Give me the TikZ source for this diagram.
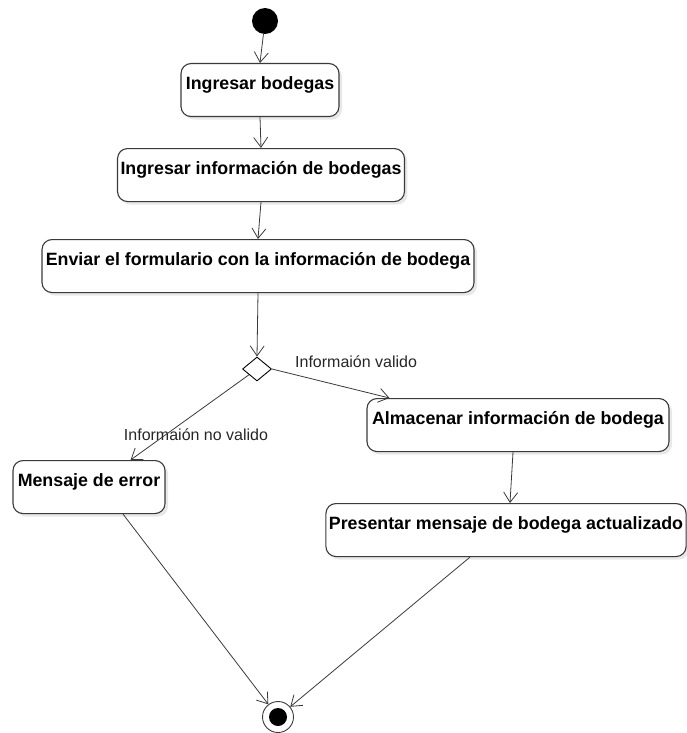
\documentclass[tikz,border=0pt]{standalone}
\usepackage{fontspec}
\setmainfont{Liberation Sans}
\usetikzlibrary{arrows.meta,shapes.geometric,shadows}
\definecolor{edge}{HTML}{3A3A3A}
\tikzset{
  actbox/.style={draw=edge, line width=1.1pt, rounded corners=10pt, fill=white,
    inner xsep=3pt, inner ysep=0pt, text height=26pt, text depth=27pt,
    font=\fontsize{17.8}{20}\selectfont\bfseries, anchor=north,
    drop shadow={shadow xshift=3pt, shadow yshift=-3pt, opacity=0.18, fill=gray}},
  flow/.style={draw=edge, line width=0.8pt, -{Straight Barb[length=10pt,width=14pt,line width=0.8pt]}},
  lbl/.style={font=\fontsize{16}{18}\selectfont, text=black!85, inner sep=0pt},
  dec/.style={diamond, draw=black, line width=0.9pt, fill=white, minimum width=29pt, minimum height=24pt, inner sep=0pt}
}
\begin{document}
\begin{tikzpicture}[x=1pt,y=-1pt]
\useasboundingbox (0,0) rectangle (686,733);
\node[circle, fill=black, minimum size=26pt, inner sep=0pt] (init) at (265,21) {};
\node[actbox, minimum width=158pt] (b1) at (260,63) {Ingresar bodegas};
\node[actbox, minimum width=286pt] (b2) at (261,148) {Ingresar información de bodegas};
\node[actbox, minimum width=432pt] (b3) at (258,239) {Enviar el formulario con la información de bodega};
\node[dec] (d) at (257,369) {};
\node[actbox, minimum width=302pt] (b4) at (518,398) {Almacenar información de bodega};
\node[actbox, minimum width=152pt] (b5) at (89,460) {Mensaje de error};
\node[actbox, minimum width=358pt] (b6) at (506,503) {Presentar mensaje de bodega actualizado};
\node[circle, draw=edge, line width=0.9pt, fill=white, minimum size=31pt, inner sep=0pt] (fin) at (278,717) {};
\node[circle, fill=black, minimum size=18pt, inner sep=0pt] (fincore) at (fin.center) {};
\node[lbl, anchor=west] (lv) at (295,362) {Informaión valido};
\node[lbl] (lnv) at (196,435) {Informaión no valido};
\draw[flow] (init) -- (b1.north);
\draw[flow] (b1.south) -- (b2.north);
\draw[flow] (b2.south) -- (b3.north);
\draw[flow] (b3.south) -- (d.north);
\draw[flow] (d.east) -- ([xshift=23pt]b4.north west);
\draw[flow] (d) -- ([xshift=-35pt]b5.north east);
\draw[flow] ([xshift=-5pt]b4.south) -- ([xshift=4pt]b6.north);
\draw[flow] ([xshift=34pt]b5.south) -- (fin);
\draw[flow] ([xshift=-36pt]b6.south) -- (fin);
\end{tikzpicture}
\end{document}
